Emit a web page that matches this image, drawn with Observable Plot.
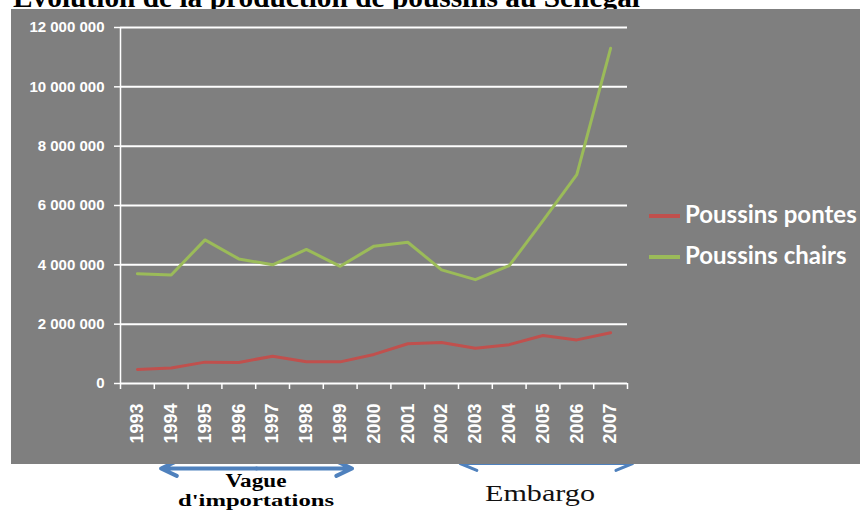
<!DOCTYPE html>
<html>
<head>
<meta charset="utf-8">
<script src="https://cdn.jsdelivr.net/npm/d3@7"></script>
<script src="https://cdn.jsdelivr.net/npm/@observablehq/plot@0.6"></script>
<style>
  html, body { margin: 0; padding: 0; background: #ffffff; }
  body { width: 860px; height: 510px; position: relative; overflow: hidden; }
  .layer { position: absolute; left: 0; top: 0; }
  #arrows { z-index: 1; }
  #titleLayer { z-index: 1; }
  #bg { position: absolute; left: 11px; top: 9px; width: 849px; height: 455px; background: #7f7f7f; z-index: 2; }
  #chart { z-index: 3; }
  #overlay { z-index: 4; }
</style>
</head>
<body>
<svg id="titleLayer" class="layer" width="860" height="510">
  <text x="13" y="7" font-family="Liberation Serif, Times New Roman, serif" font-weight="bold" font-size="29" fill="#000" textLength="627" lengthAdjust="spacingAndGlyphs">Evolution de la production de poussins au Sénégal</text>
</svg>
<div id="arrows" class="layer"></div>
<div id="bg"></div>
<div id="chart" class="layer"></div>
<svg id="overlay" class="layer" width="860" height="510"></svg>
<script>
// ---- data ----
const years = [1993, 1994, 1995, 1996, 1997, 1998, 1999, 2000, 2001, 2002, 2003, 2004, 2005, 2006, 2007];
const poussinsPontes = [470000, 520000, 720000, 710000, 920000, 730000, 730000, 980000, 1340000, 1380000, 1190000, 1310000, 1620000, 1470000, 1710000];
const poussinsChairs = [3700000, 3660000, 4840000, 4200000, 4000000, 4520000, 3950000, 4630000, 4760000, 3830000, 3500000, 3970000, 5490000, 7040000, 11300000];
const yTicks = [0, 2000000, 4000000, 6000000, 8000000, 10000000, 12000000];
const seriesNames = ["Poussins pontes", "Poussins chairs"];
const seriesColors = ["#C0504D", "#9BBB59"];
const periodLabels = [["Vague", "d'importations"], ["Embargo"]];
const periodStart = [1993.7, 2002.55];
const periodEnd = [1999.35, 2007.65];

// ---- shared layout ----
const fmt = d3.formatLocale({decimal: ",", thousands: " ", grouping: [3], currency: ["", " €"]}).format(",");
const xDomain = [years[0] - 0.5, years[years.length - 1] + 0.5];
const boundaries = d3.range(xDomain[0], xDomain[1] + 0.001, 1);
const common = {
  width: 860, height: 510,
  marginLeft: 120, marginRight: 233, marginTop: 27, marginBottom: 127,
  x: {domain: xDomain},
  y: {domain: [0, 12000000]},
  style: {background: "transparent", overflow: "visible", fontFamily: "Liberation Sans, Arial, sans-serif"}
};

const rows = years.flatMap((yr, i) => [
  {year: yr, value: poussinsPontes[i], series: seriesNames[0]},
  {year: yr, value: poussinsChairs[i], series: seriesNames[1]}
]);

// ---- main chart ----
const chart = Plot.plot({
  ...common,
  color: {domain: seriesNames, range: seriesColors},
  marks: [
    Plot.gridY(yTicks, {stroke: "white", strokeOpacity: 1, strokeWidth: 2}),
    Plot.ruleX([xDomain[0]], {stroke: "white", strokeWidth: 1.5}),
    Plot.line(rows, {x: "year", y: "value", z: "series", stroke: "series", strokeWidth: 3}),
    Plot.axisY(yTicks, {tickFormat: fmt, tickSize: 6, tickPadding: 10, color: "white", strokeWidth: 1.5, fontSize: 15, fontWeight: "bold", label: null}),
    Plot.axisX(boundaries, {tickSize: 6, tickFormat: () => "", color: "white", strokeWidth: 1.5, label: null}),
    Plot.axisX(years, {tickSize: 0, tickPadding: 20, tickRotate: -90, tickFormat: d => String(d), color: "white", fontSize: 18, fontWeight: "bold", label: null})
  ]
});
document.getElementById("chart").appendChild(chart);

// ---- annotation arrows (below the grey panel) ----
const arrowSegs = periodStart.flatMap((s, i) => {
  const mid = (s + periodEnd[i]) / 2;
  return [{x1: mid, x2: s, k: i}, {x1: mid, x2: periodEnd[i], k: i}];
});
const arrowPlot = Plot.plot({
  ...common,
  axis: null,
  marks: [
    Plot.arrow(arrowSegs.filter(d => d.k === 0), {x1: "x1", x2: "x2", y1: () => 0, y2: () => 0, dy: 85, stroke: "#4F81BD", strokeWidth: 4, headLength: 6.5, headAngle: 50}),
    Plot.arrow(arrowSegs.filter(d => d.k === 1), {x1: "x1", x2: "x2", y1: () => 0, y2: () => 0, dy: 80, stroke: "#4F81BD", strokeWidth: 3, headLength: 9, headAngle: 45})
  ]
});
document.getElementById("arrows").appendChild(arrowPlot);

// ---- legend & annotation labels ----
const ov = d3.select("#overlay");
seriesNames.forEach((name, i) => {
  const cy = [216, 257][i];
  ov.append("line").attr("x1", 649).attr("x2", 680).attr("y1", cy).attr("y2", cy)
    .attr("stroke", seriesColors[i]).attr("stroke-width", 4);
  ov.append("text").attr("x", 685).attr("y", cy + 7)
    .attr("font-family", "Lato, sans-serif").attr("font-weight", "bold").attr("font-size", 24)
    .attr("fill", "white").text(name);
});
const serif = "Liberation Serif, Times New Roman, serif";
ov.append("text").attr("x", 256).attr("y", 487).attr("text-anchor", "middle")
  .attr("font-family", serif).attr("font-weight", "bold").attr("font-size", 18)
  .attr("textLength", 61).attr("lengthAdjust", "spacingAndGlyphs").text(periodLabels[0][0]);
ov.append("text").attr("x", 256).attr("y", 506).attr("text-anchor", "middle")
  .attr("font-family", serif).attr("font-weight", "bold").attr("font-size", 17)
  .attr("textLength", 156).attr("lengthAdjust", "spacingAndGlyphs").text(periodLabels[0][1]);
ov.append("text").attr("x", 540).attr("y", 501).attr("text-anchor", "middle")
  .attr("font-family", serif).attr("font-size", 23).attr("fill", "#111")
  .attr("textLength", 110).attr("lengthAdjust", "spacingAndGlyphs").text(periodLabels[1][0]);
</script>
</body>
</html>
